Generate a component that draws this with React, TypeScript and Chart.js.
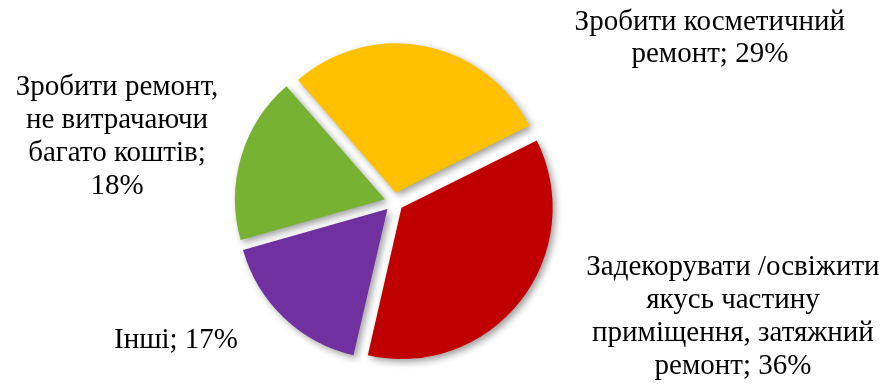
import React, { useEffect, useRef } from "react";
import { Chart, registerables } from "chart.js";

Chart.register(...registerables);

const categories = [
  "Зробити косметичний ремонт",
  "Задекорувати /освіжити якусь частину приміщення, затяжний ремонт",
  "Інші",
  "Зробити ремонт, не витрачаючи багато коштів",
];
const shares = [29, 36, 17, 18];
const labelLines = [
  ["Зробити косметичний", "ремонт; 29%"],
  ["Задекорувати /освіжити", "якусь частину", "приміщення, затяжний", "ремонт; 36%"],
  ["Інші; 17%"],
  ["Зробити ремонт,", "не витрачаючи", "багато коштів;", "18%"],
];
const colors = ["#FFC000", "#C00000", "#7030A0", "#78B232"];

// label block centres relative to pie centre, in units of the outer radius
const labelPlacement = [
  { dx: 2.12, dy: -1.1, lh: 32 },
  { dx: 2.275, dy: 0.77, lh: 33 },
  { dx: -1.463, dy: 0.93, lh: 33 },
  { dx: -1.859, dy: -0.44, lh: 33 },
];

const shadowPlugin = {
  id: "sliceShadow",
  beforeDatasetsDraw(chart: any) {
    const ctx = chart.ctx;
    ctx.save();
    ctx.shadowColor = "rgba(0,0,0,0.38)";
    ctx.shadowBlur = 7;
    ctx.shadowOffsetX = 3;
    ctx.shadowOffsetY = 3;
  },
  afterDatasetsDraw(chart: any) {
    chart.ctx.restore();
  },
};

const labelPlugin = {
  id: "outsideLabels",
  afterDraw(chart: any) {
    const ctx = chart.ctx;
    const meta = chart.getDatasetMeta(0);
    const first = meta.data[0];
    if (!first) return;
    const cx = first.x;
    const cy = first.y;
    const r = first.outerRadius;
    ctx.save();
    ctx.fillStyle = "#000";
    ctx.font = '29px "Liberation Serif", "Times New Roman", serif';
    ctx.textAlign = "center";
    ctx.textBaseline = "middle";
    labelLines.forEach((lines, i) => {
      const p = labelPlacement[i];
      const x = cx + p.dx * r;
      const yc = cy + p.dy * r;
      const top = yc - ((lines.length - 1) * p.lh) / 2;
      lines.forEach((line, j) => {
        ctx.fillText(line, x, top + j * p.lh);
      });
    });
    ctx.restore();
  },
};

export default function App() {
  const ref = useRef<HTMLCanvasElement | null>(null);
  useEffect(() => {
    if (!ref.current) return;
    const chart = new Chart(ref.current, {
      type: "pie",
      data: {
        labels: categories,
        datasets: [
          {
            data: shares,
            backgroundColor: colors,
            borderWidth: 0,
            offset: 38,
            hoverOffset: 0,
          },
        ],
      },
      options: {
        responsive: false,
        animation: false,
        devicePixelRatio: 1,
        rotation: -41,
        radius: 149,
        layout: { padding: { left: 0, right: 100, top: 17, bottom: 0 } },
        plugins: {
          legend: { display: false },
          tooltip: { enabled: false },
        },
        events: [],
      },
      plugins: [shadowPlugin, labelPlugin],
    });
    return () => chart.destroy();
  }, []);
  return (
    <div style={{ position: "absolute", left: 0, top: 0, width: 888, height: 387, background: "#fff" }}>
      <canvas ref={ref} width={888} height={387} />
    </div>
  );
}
